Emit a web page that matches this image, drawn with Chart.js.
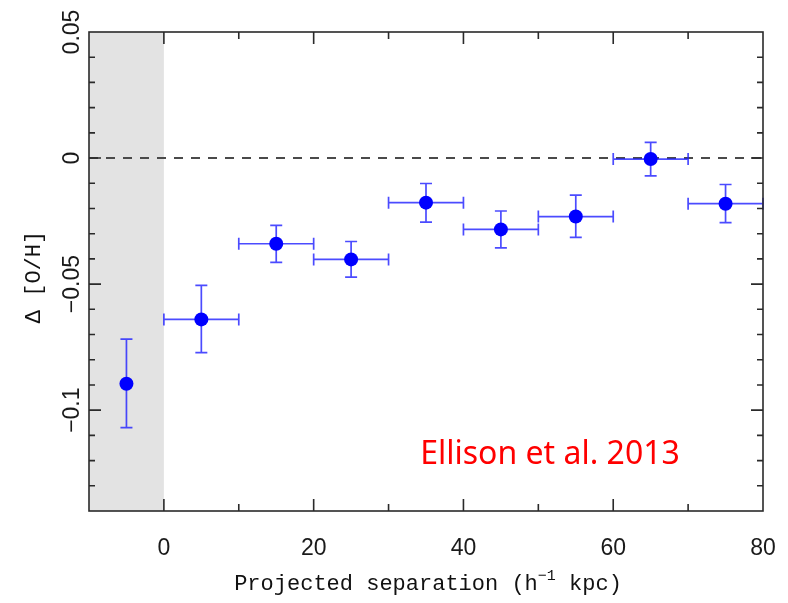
<!DOCTYPE html>
<html>
<head>
<meta charset="utf-8">
<script src="https://cdn.jsdelivr.net/npm/chart.js@4.4.0/dist/chart.umd.min.js"></script>
<style>
html, body { margin: 0; padding: 0; background: #fff; }
#wrap { width: 788px; height: 603px; }
</style>
</head>
<body>
<div id="wrap"><canvas id="chart" width="788" height="603"></canvas></div>
<script>
// Data
const separation = [-5, 5, 15, 25, 35, 45, 55, 65, 75];
const deltaOH    = [-0.0895, -0.0640, -0.0340, -0.0402, -0.0177, -0.0283, -0.0232, -0.0004, -0.0181];
const yErrTop    = [-0.0718, -0.0505, -0.0267, -0.0331, -0.0101, -0.0210, -0.0147,  0.0062, -0.0105];
const yErrBottom = [-0.1069, -0.0772, -0.0414, -0.0472, -0.0254, -0.0356, -0.0315, -0.0071, -0.0256];
const xHalfBin   = [0, 5, 5, 5, 5, 5, 5, 5, 5];

const xTickLabels = [0, 20, 40, 60, 80];
const yTickLabels = [0.05, 0, -0.05, -0.1];
const shadedRange = [-10, 0];

const blue = "#0000ff";
const errColor = "rgba(30,30,255,0.8)";
const axisColor = "#2a2a2a";

function fmtY(v) {
    if (v === 0) return "0";
    return (v < 0 ? "\u2212" : "") + String(Math.abs(v));
}

const figurePlugin = {
    id: "figure",
    beforeDatasetsDraw(chart) {
        const ctx = chart.ctx;
        const a = chart.chartArea;
        const x = chart.scales.x, y = chart.scales.y;

        // grey shaded region
        ctx.save();
        ctx.fillStyle = "#e3e3e3";
        const sx0 = x.getPixelForValue(shadedRange[0]);
        const sx1 = x.getPixelForValue(shadedRange[1]);
        ctx.fillRect(sx0, a.top, sx1 - sx0, a.bottom - a.top);

        // dashed zero line
        ctx.strokeStyle = "#4a4a4a";
        ctx.lineWidth = 2;
        ctx.setLineDash([9, 8]);
        const y0 = y.getPixelForValue(0);
        ctx.beginPath();
        ctx.moveTo(a.left, y0);
        ctx.lineTo(a.right, y0);
        ctx.stroke();
        ctx.setLineDash([]);

        // error bars
        ctx.strokeStyle = errColor;
        ctx.lineWidth = 1.7;
        separation.forEach((sx, i) => {
            const px = x.getPixelForValue(sx);
            const py = y.getPixelForValue(deltaOH[i]);
            const pt = y.getPixelForValue(yErrTop[i]);
            const pb = y.getPixelForValue(yErrBottom[i]);
            ctx.beginPath();
            ctx.moveTo(px, pt); ctx.lineTo(px, pb);
            ctx.moveTo(px - 6, pt); ctx.lineTo(px + 6, pt);
            ctx.moveTo(px - 6, pb); ctx.lineTo(px + 6, pb);
            if (xHalfBin[i] > 0) {
                const pl = x.getPixelForValue(sx - xHalfBin[i]);
                const pr = x.getPixelForValue(sx + xHalfBin[i]);
                ctx.moveTo(pl, py); ctx.lineTo(pr, py);
                ctx.moveTo(pl, py - 6); ctx.lineTo(pl, py + 6);
                ctx.moveTo(pr, py - 6); ctx.lineTo(pr, py + 6);
            }
            ctx.stroke();
        });
        ctx.restore();
    },
    afterDatasetsDraw(chart) {
        const ctx = chart.ctx;
        const a = chart.chartArea;
        const x = chart.scales.x, y = chart.scales.y;
        ctx.save();

        // frame
        ctx.strokeStyle = axisColor;
        ctx.lineWidth = 1.6;
        ctx.strokeRect(a.left, a.top, a.right - a.left, a.bottom - a.top);

        // inward ticks, x every 10 (major every 20)
        ctx.beginPath();
        for (let v = 0; v < 80; v += 10) {
            const px = x.getPixelForValue(v);
            const len = v % 20 === 0 ? 12 : 7;
            ctx.moveTo(px, a.bottom); ctx.lineTo(px, a.bottom - len);
            ctx.moveTo(px, a.top); ctx.lineTo(px, a.top + len);
        }
        // y every 0.01 (major every 0.05)
        for (let k = -13; k <= 4; k++) {
            const py = y.getPixelForValue(k / 100);
            const len = k % 5 === 0 ? 12 : 6;
            ctx.moveTo(a.left, py); ctx.lineTo(a.left + len, py);
            ctx.moveTo(a.right, py); ctx.lineTo(a.right - len, py);
        }
        ctx.stroke();

        // tick labels
        ctx.fillStyle = "#1a1a1a";
        ctx.font = "23px 'Liberation Sans', Arial, sans-serif";
        ctx.textAlign = "center";
        ctx.textBaseline = "middle";
        xTickLabels.forEach(v => {
            ctx.fillText(String(v), x.getPixelForValue(v), 549);
        });
        yTickLabels.forEach(v => {
            ctx.save();
            ctx.translate(73, y.getPixelForValue(v));
            ctx.rotate(-Math.PI / 2);
            ctx.fillText(fmtY(v), 0, 0);
            ctx.restore();
        });

        // y title
        ctx.fillStyle = "#111";
        ctx.font = "22px 'Liberation Mono', 'DejaVu Sans Mono', monospace";
        ctx.save();
        ctx.translate(34, 277);
        ctx.rotate(-Math.PI / 2);
        ctx.fillText("\u0394 [O/H]", 0, 0);
        ctx.restore();

        // x title with superscript
        const partA = "Projected separation (h";
        const sup = "\u22121";
        const partB = " kpc)";
        ctx.textAlign = "left";
        ctx.textBaseline = "alphabetic";
        const fMain = "22px 'Liberation Mono', 'DejaVu Sans Mono', monospace";
        const fSup = "15px 'Liberation Mono', 'DejaVu Sans Mono', monospace";
        ctx.font = fMain;
        const wA = ctx.measureText(partA).width;
        const wB = ctx.measureText(partB).width;
        ctx.font = fSup;
        const wS = ctx.measureText(sup).width;
        let tx = 428 - (wA + wS + wB) / 2;
        const base = 590;
        ctx.font = fMain;
        ctx.fillText(partA, tx, base); tx += wA;
        ctx.font = fSup;
        ctx.fillText(sup, tx, base - 10); tx += wS;
        ctx.font = fMain;
        ctx.fillText(partB, tx, base);

        // annotation
        ctx.fillStyle = "#ff0000";
        ctx.font = "32px 'Noto Sans', 'Liberation Sans', sans-serif";
        ctx.textAlign = "center";
        ctx.fillText("Ellison et al. 2013", 550, 464);

        ctx.restore();
    }
};

new Chart(document.getElementById("chart"), {
    type: "scatter",
    data: {
        datasets: [{
            label: "\u0394 [O/H]",
            data: separation.map((s, i) => ({ x: s, y: deltaOH[i] })),
            backgroundColor: blue,
            borderColor: blue,
            pointRadius: 7,
            pointHoverRadius: 7,
            borderWidth: 0
        }]
    },
    options: {
        responsive: false,
        animation: false,
        layout: { padding: { left: 0, right: 25, top: 32, bottom: 0 } },
        plugins: {
            legend: { display: false },
            tooltip: { enabled: false }
        },
        scales: {
            x: {
                type: "linear",
                min: -10,
                max: 80,
                ticks: { display: false },
                grid: { display: false },
                border: { display: false },
                afterFit: s => { s.height = 92; }
            },
            y: {
                type: "linear",
                min: -0.14,
                max: 0.05,
                ticks: { display: false },
                grid: { display: false },
                border: { display: false },
                afterFit: s => { s.width = 89; }
            }
        }
    },
    plugins: [figurePlugin]
});
</script>
</body>
</html>
